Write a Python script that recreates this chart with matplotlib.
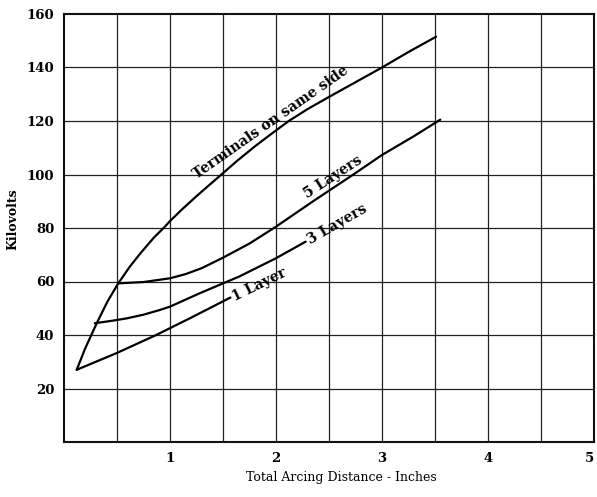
import matplotlib
matplotlib.use("Agg")
import matplotlib.pyplot as plt

plt.rcParams['font.family'] = ['DejaVu Serif']

# curves (inches, kilovolts)
term_x = [0.12, 0.2, 0.31, 0.41, 0.51, 0.62, 0.72, 0.85, 0.94, 1.0, 1.12, 1.25, 1.38, 1.5,
          1.63, 1.8, 1.95, 2.12, 2.3, 2.5, 2.75, 3.0, 3.25, 3.51]
term_y = [27, 35, 44.5, 52.5, 59.2, 65.5, 70.5, 76.5, 80, 82.6, 87.2, 91.9, 96.4, 100.5,
          105, 110.5, 115, 120, 124.5, 129, 134.5, 140, 145.8, 151.5]

five_x = [0.51, 0.75, 1.0, 1.15, 1.3, 1.5, 1.75, 2.0, 2.35, 2.73, 3.0, 3.3, 3.55]
five_y = [59.3, 59.8, 61.2, 62.8, 65.0, 68.9, 74.2, 80.5, 90, 100, 107.3, 114.3, 120.5]

three_x = [0.29, 0.45, 0.59, 0.75, 0.9, 1.0, 1.28, 1.5, 1.65, 2.0, 2.28]
three_y = [44.4, 45.3, 46.2, 47.6, 49.3, 50.6, 55.6, 59.3, 61.8, 68.7, 74.9]

one_x = [0.12, 0.5, 0.87, 1.2, 1.57]
one_y = [27, 33.3, 40, 46.5, 54]

x_ticks = [1, 2, 3, 4, 5]
y_ticks = [20, 40, 60, 80, 100, 120, 140, 160]

fig = plt.figure(figsize=(5.97, 4.97), dpi=100)
ax = fig.add_axes([64/597, 55/497, 530/597, 428/497])

ax.set_xlim(0, 5)
ax.set_ylim(0, 160)

# grid
for gx in [0.5, 1, 1.5, 2, 2.5, 3, 3.5, 4, 4.5]:
    ax.axvline(gx, color='#222222', lw=0.9, zorder=1)
for gy in [20, 40, 60, 80, 100, 120, 140]:
    ax.axhline(gy, color='#222222', lw=0.9, zorder=1)

for s in ax.spines.values():
    s.set_linewidth(1.5)
    s.set_color('#111111')

kw = dict(color='black', lw=1.6, zorder=3, solid_capstyle='round', solid_joinstyle='round')
ax.plot(term_x, term_y, **kw)
ax.plot(five_x, five_y, **kw)
ax.plot(three_x, three_y, **kw)
ax.plot(one_x, one_y, **kw)

tk = dict(fontsize=10.2, fontweight='bold', ha='center', va='center',
          rotation_mode='anchor', zorder=4)
ax.text(1.95, 119.3, 'Terminals on same side', rotation=35, **tk)
ax.text(2.54, 99.2, '5 Layers', rotation=33, **tk)
ax.text(2.58, 81.5, '3 Layers', rotation=30, **tk)
ax.text(1.84, 58.7, '1 Layer', rotation=26, **tk)

ax.set_xticks(x_ticks)
ax.set_xticklabels([str(v) for v in x_ticks], fontsize=9.5, fontweight='bold')
ax.get_xticklabels()[-1].set_horizontalalignment('right')
ax.set_yticks(y_ticks)
ax.set_yticklabels([str(v) for v in y_ticks], fontsize=9.5, fontweight='bold')
ax.tick_params(length=0, pad=7)

fig.text(13/597, 1 - 219/497, 'Kilovolts', rotation=90, ha='center', va='center',
         fontsize=9, fontweight='bold')
fig.text(341/597, 1 - 478/497, 'Total Arcing Distance - Inches', ha='center', va='center',
         fontsize=9)

fig.savefig('out.png', dpi=100)
